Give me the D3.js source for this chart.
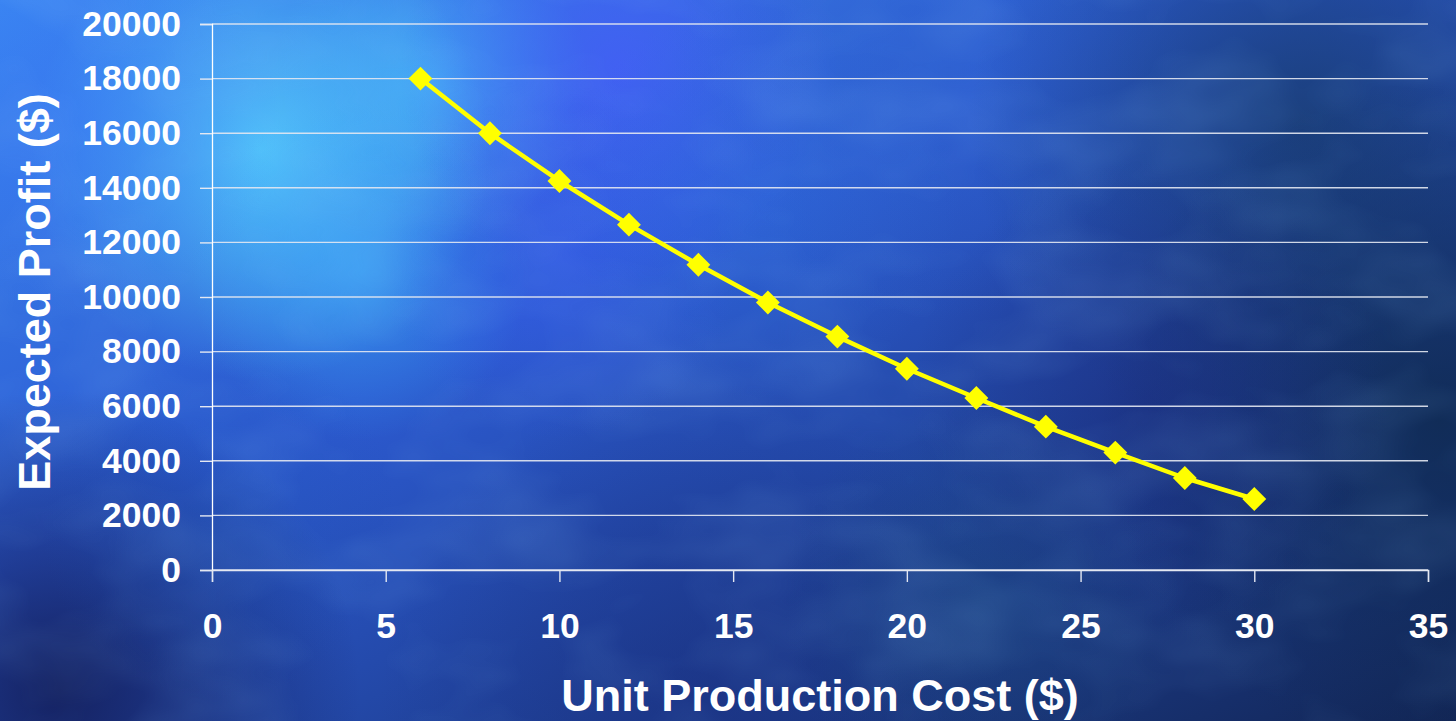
<!DOCTYPE html>
<html>
<head>
<meta charset="utf-8">
<script src="https://cdn.jsdelivr.net/npm/d3@7"></script>
<style>
  html, body { margin: 0; padding: 0; background: #1a3a8a; overflow: hidden; }
  svg { display: block; }
  text { font-family: "Liberation Sans", Arial, sans-serif; font-weight: bold; fill: #ffffff; }
</style>
</head>
<body>
<div id="chart"></div>
<script>
// ---- data ----
const unitCost = [6, 8, 10, 12, 14, 16, 18, 20, 22, 24, 26, 28, 30];
const expectedProfit = [18000, 16000, 14250, 12650, 11180, 9800, 8550, 7370, 6300, 5250, 4300, 3370, 2600];
const xTicks = [0, 5, 10, 15, 20, 25, 30, 35];
const yTicks = [0, 2000, 4000, 6000, 8000, 10000, 12000, 14000, 16000, 18000, 20000];
const xTitle = "Unit Production Cost ($)";
const yTitle = "Expected Profit ($)";

(function () {
// ---- layout ----
const W = 1456, H = 721;
const mLeft = 212, mRight = 1428, mTop = 24, mBottom = 570;

const svg = d3.select("#chart").append("svg").attr("width", W).attr("height", H);
const defs = svg.append("defs");

// background
const base = defs.append("linearGradient").attr("id", "bgBase")
  .attr("x1", "0").attr("y1", "0").attr("x2", "1").attr("y2", "1");
base.append("stop").attr("offset", "0").attr("stop-color", "#3a86f2");
base.append("stop").attr("offset", "0.4").attr("stop-color", "#2c5ad0");
base.append("stop").attr("offset", "0.75").attr("stop-color", "#1d3c8c");
base.append("stop").attr("offset", "1").attr("stop-color", "#122656");

svg.append("rect").attr("width", W).attr("height", H).attr("fill", "url(#bgBase)");

const blobs = [
  {cx: 260, cy: 150, r: 230, c: "#58d2ff", o: 0.85},
  {cx: 430, cy: 85, r: 160, c: "#4cc6ff", o: 0.6},
  {cx: 360, cy: 270, r: 170, c: "#3cb4ff", o: 0.55},
  {cx: 80, cy: 120, r: 200, c: "#3a78f5", o: 0.5},
  {cx: 620, cy: 70, r: 220, c: "#4a5cff", o: 0.65},
  {cx: 560, cy: 260, r: 180, c: "#3a5cf0", o: 0.45},
  {cx: 760, cy: 200, r: 200, c: "#2f70e0", o: 0.4},
  {cx: 930, cy: 60, r: 260, c: "#3066d0", o: 0.45},
  {cx: 1300, cy: 120, r: 330, c: "#173a6a", o: 0.75},
  {cx: 1440, cy: 420, r: 340, c: "#0f2a50", o: 0.85},
  {cx: 1150, cy: 400, r: 240, c: "#1a2a7a", o: 0.55},
  {cx: 60, cy: 690, r: 300, c: "#131d58", o: 0.9},
  {cx: 700, cy: 700, r: 320, c: "#1a2f80", o: 0.55},
  {cx: 980, cy: 600, r: 200, c: "#1d4a7e", o: 0.45},
  {cx: 220, cy: 520, r: 180, c: "#1f50b0", o: 0.35}
];
blobs.forEach((b, i) => {
  const g = defs.append("radialGradient").attr("id", "blob" + i);
  g.append("stop").attr("offset", "0").attr("stop-color", b.c).attr("stop-opacity", b.o);
  g.append("stop").attr("offset", "1").attr("stop-color", b.c).attr("stop-opacity", 0);
  svg.append("circle").attr("cx", b.cx).attr("cy", b.cy).attr("r", b.r).attr("fill", "url(#blob" + i + ")");
});

// cloudy texture
const f = defs.append("filter").attr("id", "clouds").attr("x", 0).attr("y", 0).attr("width", "100%").attr("height", "100%");
f.append("feTurbulence").attr("type", "fractalNoise").attr("baseFrequency", "0.007 0.012").attr("numOctaves", 3).attr("seed", 7);
f.append("feColorMatrix").attr("type", "matrix")
  .attr("values", "0 0 0 0 0.25  0 0 0 0 0.55  0 0 0 0 0.95  0 0 0 1.4 -0.55");
svg.append("rect").attr("width", W).attr("height", H).attr("filter", "url(#clouds)").attr("opacity", 0.2);

// ---- scales ----
const x = d3.scaleLinear().domain([0, 35]).range([mLeft, mRight]);
const y = d3.scaleLinear().domain([0, 20000]).range([mBottom, mTop]);

// gridlines
svg.append("g").selectAll("line").data(yTicks).join("line")
  .attr("x1", mLeft).attr("x2", mRight)
  .attr("y1", d => y(d)).attr("y2", d => y(d))
  .attr("stroke", "#e4e8f2").attr("stroke-width", 1.4).attr("opacity", 0.9);

// y axis
const yAxis = svg.append("g").attr("transform", `translate(${mLeft},0)`)
  .call(d3.axisLeft(y).tickValues(yTicks).tickSize(12).tickPadding(19).tickFormat(d3.format("d")));
yAxis.select(".domain").attr("stroke", "#ffffff").attr("stroke-width", 1.3);
yAxis.selectAll(".tick line").attr("stroke", "#e4e8f2").attr("stroke-width", 1.4);
yAxis.selectAll(".tick text").attr("font-size", 35.5).attr("fill", "#ffffff")
  .attr("font-family", "'Liberation Sans', Arial, sans-serif").attr("font-weight", "bold");

// x axis
const xAxis = svg.append("g").attr("transform", `translate(0,${mBottom})`)
  .call(d3.axisBottom(x).tickValues(xTicks).tickSize(12).tickPadding(31).tickFormat(d3.format("d")));
xAxis.select(".domain").attr("stroke", "#e4e8f2").attr("stroke-width", 1.4);
xAxis.selectAll(".tick line").attr("stroke", "#e4e8f2").attr("stroke-width", 1.4);
xAxis.selectAll(".tick text").attr("font-size", 35.5).attr("fill", "#ffffff")
  .attr("font-family", "'Liberation Sans', Arial, sans-serif").attr("font-weight", "bold");

// line
const pts = unitCost.map((c, i) => [c, expectedProfit[i]]);
svg.append("path").datum(pts)
  .attr("fill", "none").attr("stroke", "#ffff00").attr("stroke-width", 4.5)
  .attr("stroke-linejoin", "round")
  .attr("d", d3.line().x(d => x(d[0])).y(d => y(d[1])));

// markers
const diamond = d3.symbol().type(d3.symbolSquare).size(285);
svg.append("g").selectAll("path").data(pts).join("path")
  .attr("d", diamond)
  .attr("transform", d => `translate(${x(d[0])},${y(d[1])}) rotate(45)`)
  .attr("fill", "#ffff00");

// titles
svg.append("text").attr("x", (mLeft + mRight) / 2).attr("y", 711)
  .attr("text-anchor", "middle").attr("font-size", 45).text(xTitle);
svg.append("text").attr("transform", "translate(50,292) rotate(-90)")
  .attr("text-anchor", "middle").attr("font-size", 45).text(yTitle);
})();
</script>
</body>
</html>
